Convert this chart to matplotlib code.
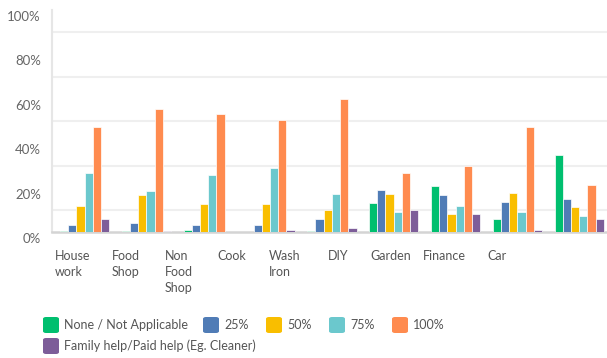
import numpy as np
import matplotlib
matplotlib.use("Agg")
import matplotlib.pyplot as plt
from matplotlib.patches import FancyBboxPatch
from matplotlib.transforms import ScaledTranslation

categories = ["House\nwork", "Food\nShop", "Non\nFood\nShop", "Cook", "Wash\nIron",
              "DIY", "Garden", "Finance", "Car"]
series_names = ["None / Not Applicable", "25%", "50%", "75%", "100%",
                "Family help/Paid help (Eg. Cleaner)"]
none_na = [0.5, 0.5, 1.2, 0.0, 0.5, 13.2, 20.7, 6.1, 34.8]
p25 = [3.2, 4.0, 3.2, 3.2, 6.1, 19.2, 16.8, 13.6, 15.1]
p50 = [11.7, 16.8, 12.7, 12.7, 10.2, 17.3, 8.2, 17.8, 11.3]
p75 = [26.8, 18.7, 25.8, 28.8, 17.3, 9.3, 11.7, 9.3, 7.2]
p100 = [47.4, 55.5, 53.4, 50.4, 59.9, 26.8, 29.9, 47.4, 21.3]
family = [6.1, 0.5, 0.0, 1.2, 2.1, 10.2, 8.2, 1.2, 6.1]
series = [none_na, p25, p50, p75, p100, family]
colors = ["#00BF6F", "#507CB6", "#F9BE00", "#6BC8CD", "#FF8B4F", "#7D5D99"]
yticklabels = ["0%", "20%", "40%", "60%", "80%", "100%"]

plt.rcParams['font.family'] = ['Lato', 'DejaVu Sans']
fig = plt.figure(figsize=(6.07, 3.58), dpi=100)
W, H = 607, 358
ax_left, ax_right, ax_top, ax_bot = 52, 607, 10, 232.3
ax = fig.add_axes([ax_left / W, (H - ax_bot) / H, (ax_right - ax_left) / W, (ax_bot - ax_top) / H])

x = np.arange(len(categories))
bw = 0.133
for k, (vals, c) in enumerate(zip(series, colors)):
    ax.bar(x + (k - 2.5) * bw, np.array(vals) / 100, width=bw, color=c,
           edgecolor="white", linewidth=0.5, zorder=3)

ax.set_xlim(-0.526, 8.45)
ax.set_ylim(0, 1.0)
ax.set_yticks(np.arange(0, 1.01, 0.2))
ax.set_yticklabels(yticklabels, fontsize=9.5, color="#666666")
ax.set_yticks(np.arange(0.1, 0.95, 0.1), minor=True)
ax.yaxis.grid(True, which="minor", color="#efefef", linewidth=1.5, zorder=0)
ax.tick_params(axis="y", which="both", length=0, pad=8)
ax.set_xticks([])
for lab in ax.get_yticklabels():
    lab.set_transform(lab.get_transform() + ScaledTranslation(0, -6 / 100, fig.dpi_scale_trans))
for s in ["top", "right"]:
    ax.spines[s].set_visible(False)
ax.spines["left"].set_color("#e6e6e6")
ax.spines["left"].set_linewidth(1.5)
ax.spines["bottom"].set_color("#d4d4d4")
ax.spines["bottom"].set_linewidth(1.8)

# category labels on a secondary axis
ax2 = ax.twiny()
ax2.set_xlim((ax_left - 72.5) / 53.1, (ax_right - 72.5) / 53.1)
ax2.xaxis.set_ticks_position("bottom")
ax2.set_xticks(np.arange(len(categories)))
ax2.set_xticklabels(categories, fontsize=9, color="#555555", linespacing=1.4,
                    va="top", multialignment="left")
ax2.tick_params(axis="x", length=0, pad=13)
for s in ax2.spines.values():
    s.set_visible(False)

# legend
def legend_item(px, py, color, text):
    sq = 16
    fig.add_artist(FancyBboxPatch(((px) / W, (H - py - sq / 2) / H), sq / W, sq / H,
                                  boxstyle="round,pad=0,rounding_size=0.005",
                                  transform=fig.transFigure, facecolor=color, edgecolor="none"))
    fig.text((px + sq + 5) / W, (H - py) / H, text, fontsize=9, color="#555555",
             va="center", ha="left")

row1_x = [43, 203, 266, 329, 392]
for i in range(5):
    legend_item(row1_x[i], 325, colors[i], series_names[i])
legend_item(43, 346, colors[5], series_names[5])

fig.savefig("out.png", dpi=100)
